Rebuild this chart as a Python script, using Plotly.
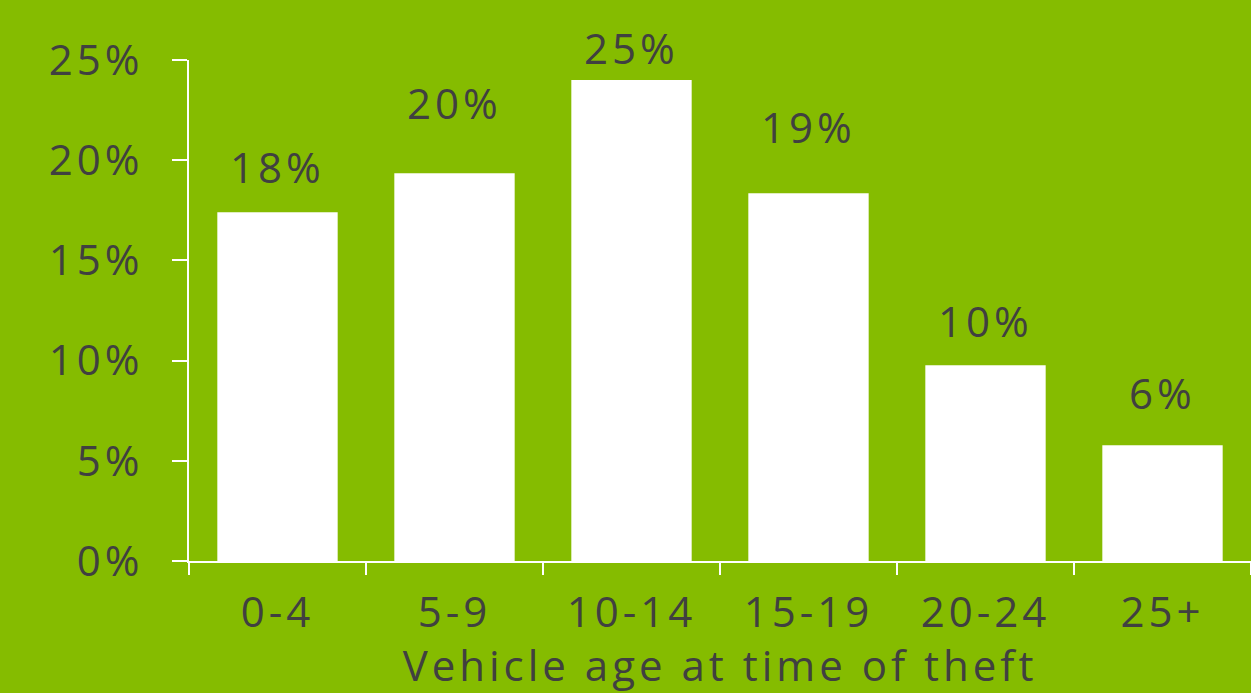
import plotly.graph_objects as go

categories = ["0-4", "5-9", "10-14", "15-19", "20-24", "25+"]
bar_values = [17.4, 19.35, 24.0, 18.35, 9.77, 5.78]
label_texts = ["18%", "20%", "25%", "19%", "10%", "6%"]
label_heights = [19.7, 22.9, 25.6, 21.7, 12.0, 8.4]
y_ticks = [0, 5, 10, 15, 20, 25]
y_tick_labels = ["0%", "5%", "10%", "15%", "20%", "25%"]
y_max = 25

BG = "#85BC00"
TXT = "#404040"
FONT = "Open Sans"

fig = go.Figure()
fig.add_trace(go.Bar(
    x=categories, y=bar_values,
    marker=dict(color="white", line=dict(width=0)),
    width=0.68, hoverinfo="skip",
))

for c, t, h in zip(categories, label_texts, label_heights):
    fig.add_annotation(x=c, xref="x", y=h / y_max, yref="paper", text=t,
                       showarrow=False,
                       font=dict(family=FONT, size=42, color=TXT),
                       xanchor="center", yanchor="middle")

fig.update_layout(
    width=1251, height=693,
    paper_bgcolor=BG, plot_bgcolor=BG,
    margin=dict(l=189, r=0, t=60, b=132),
    showlegend=False,
    font=dict(family=FONT, size=42, color=TXT),
)
fig.update_xaxes(
    showline=True, linecolor="white", linewidth=2,
    ticks="outside", tickson="boundaries", ticklen=12, tickwidth=2, tickcolor="white",
    showgrid=False, zeroline=False,
    tickfont=dict(family=FONT, size=42, color=TXT),
    ticklabelstandoff=14,
    title=dict(text="Vehicle age at time of theft", standoff=14,
               font=dict(family=FONT, size=42, color=TXT)),
)
fig.update_yaxes(
    range=[0, y_max], tickvals=y_ticks, ticktext=y_tick_labels,
    showline=True, linecolor="white", linewidth=2,
    ticks="outside", ticklen=15, tickwidth=2, tickcolor="white",
    showgrid=False, zeroline=False,
    tickfont=dict(family=FONT, size=42, color=TXT),
    ticklabelstandoff=20,
)

post = (
    "document.body.style.margin='0';"
    "var s=document.createElement('style');"
    "s.textContent='.js-plotly-plot text{letter-spacing:4px}';"
    "document.head.appendChild(s);"
)
fig.write_html("out.html", post_script=post, config={"displayModeBar": False})
